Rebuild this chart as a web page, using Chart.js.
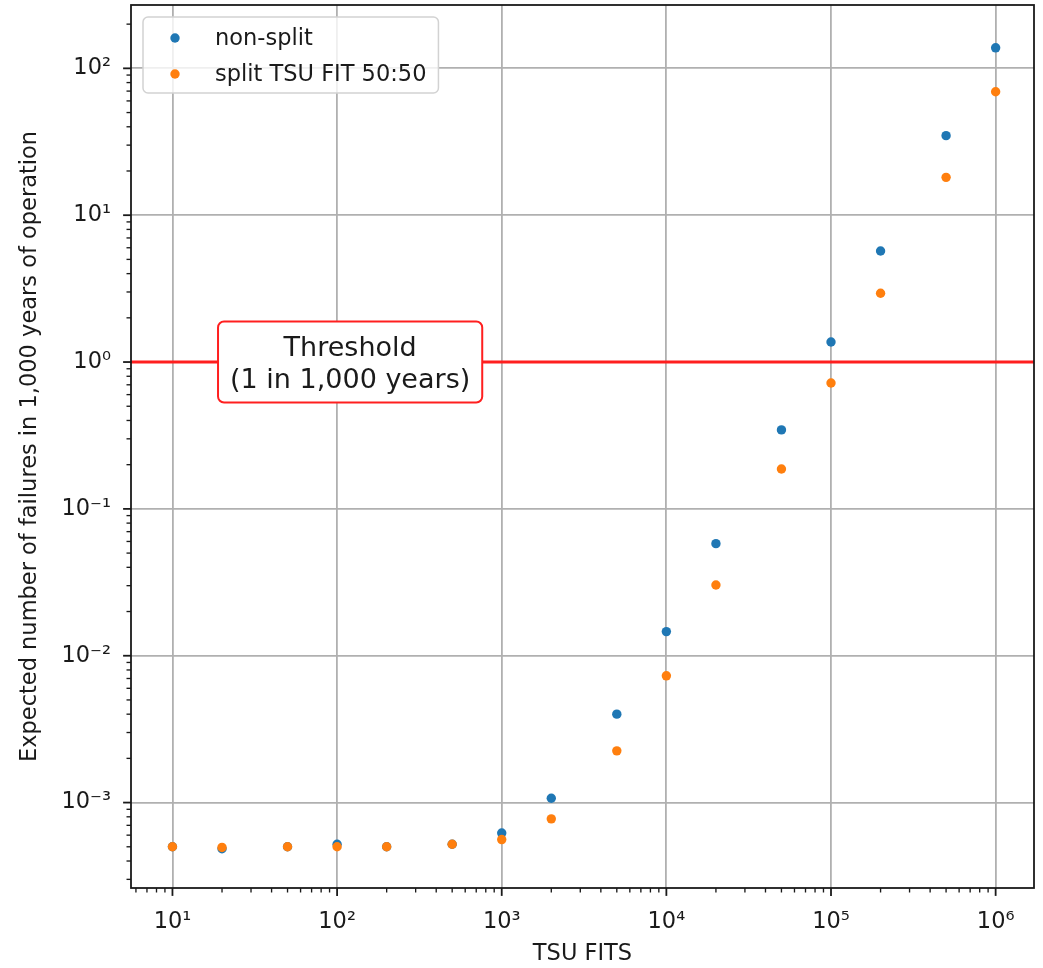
<!DOCTYPE html>
<html lang="en">
  <head>
    <meta charset="UTF-8">
    <title>Expected failures vs TSU FITS</title>
    <script src="https://cdn.jsdelivr.net/npm/chart.js"></script>
    <style>
      body { margin: 0; background: #fff; }
      #wrap { width: 1043px; height: 968px; }
    </style>
  </head>
  <body>
    <div id="wrap"><canvas id="failChart" width="1043" height="968"></canvas></div>

    <script>
      // values
      const tsuFits = [10, 20, 50, 100, 200, 500, 1000, 2000, 5000, 10000, 20000, 50000, 100000, 200000, 500000, 1000000];
      const nonSplit = [5.0e-4, 4.85e-4, 5.0e-4, 5.2e-4, 5.0e-4, 5.2e-4, 6.2e-4, 1.07e-3, 4.0e-3, 0.0146, 0.058, 0.345, 1.37, 5.7, 34.8, 138];
      const splitFifty = [5.0e-4, 4.95e-4, 5.0e-4, 5.0e-4, 5.0e-4, 5.2e-4, 5.6e-4, 7.75e-4, 2.25e-3, 7.3e-3, 0.0303, 0.187, 0.72, 2.94, 18.1, 69.3];
      const seriesLabels = ['non-split', 'split TSU FIT 50:50'];

      const thresholdValue = 1;
      const thresholdAt = 120; // x position of the label box
      const thresholdText = ['Threshold', '(1 in 1,000 years)'];

      const xTitle = 'TSU FITS';
      const yTitle = 'Expected number of failures in 1,000 years of operation';
      const xRange = [5.6, 1.71e6];
      const yRange = [2.62e-4, 270];

      const FONT = 'DejaVu Sans';
      const TXT = '#1a1a1a';
      const blue = '#1f77b4';
      const orange = '#ff7f0e';

      const supChars = { '-': '\u207B', '0': '\u2070', '1': '\u00B9', '2': '\u00B2', '3': '\u00B3', '4': '\u2074', '5': '\u2075', '6': '\u2076', '7': '\u2077', '8': '\u2078', '9': '\u2079' };

      function isDecade(v) {
        const e = Math.log10(v);
        return Math.abs(e - Math.round(e)) < 1e-9;
      }

      function powLabel(v) {
        const e = Math.round(Math.log10(v));
        return '10' + String(e).split('').map(c => supChars[c]).join('');
      }

      // decades plus 2..9 minors inside [min, max]
      function logTicks(min, max) {
        const ticks = [];
        for (let e = Math.floor(Math.log10(min)); e <= Math.ceil(Math.log10(max)); e++) {
          for (let m = 1; m < 10; m++) {
            const v = Number(m + 'e' + e);
            if (v >= min && v <= max) ticks.push({ value: v, major: m === 1 });
          }
        }
        return ticks;
      }

      function roundRect(ctx, x, y, w, h, r) {
        ctx.beginPath();
        ctx.moveTo(x + r, y);
        ctx.arcTo(x + w, y, x + w, y + h, r);
        ctx.arcTo(x + w, y + h, x, y + h, r);
        ctx.arcTo(x, y + h, x, y, r);
        ctx.arcTo(x, y, x + w, y, r);
        ctx.closePath();
      }

      const gridColor = ctx => (ctx.tick && isDecade(ctx.tick.value)) ? '#b0b0b0' : 'rgba(0,0,0,0)';

      const thresholdLine = {
        id: 'thresholdLine',
        beforeDatasetsDraw(chart) {
          const { ctx, chartArea } = chart;
          const y = chart.scales.y.getPixelForValue(thresholdValue);
          ctx.save();
          ctx.strokeStyle = '#ff1f1f';
          ctx.lineWidth = 3;
          ctx.beginPath();
          ctx.moveTo(chartArea.left, y);
          ctx.lineTo(chartArea.right, y);
          ctx.stroke();
          ctx.restore();
        },
        afterDatasetsDraw(chart) {
          const { ctx } = chart;
          const cx = chart.scales.x.getPixelForValue(thresholdAt);
          const cy = chart.scales.y.getPixelForValue(thresholdValue);
          ctx.save();
          ctx.font = '27px "' + FONT + '"';
          const w = Math.max(...thresholdText.map(t => ctx.measureText(t).width)) + 24;
          const h = 81;
          roundRect(ctx, cx - w / 2, cy - h / 2, w, h, 6);
          ctx.fillStyle = '#fff';
          ctx.fill();
          ctx.strokeStyle = '#ff1f1f';
          ctx.lineWidth = 2;
          ctx.stroke();
          ctx.fillStyle = TXT;
          ctx.textAlign = 'center';
          ctx.textBaseline = 'alphabetic';
          ctx.fillText(thresholdText[0], cx, cy - 6.5);
          ctx.fillText(thresholdText[1], cx, cy + 25.5);
          ctx.restore();
        }
      };

      // matplotlib-like legend in the upper left corner
      const cornerLegend = {
        id: 'cornerLegend',
        afterDatasetsDraw(chart) {
          const { ctx, chartArea } = chart;
          const sets = chart.data.datasets;
          ctx.save();
          ctx.font = '22.5px "' + FONT + '"';
          const left = chartArea.left + 12;
          const top = chartArea.top + 12;
          const textX = left + 72;
          const maxW = Math.max(...sets.map(d => ctx.measureText(d.label).width));
          const w = textX + maxW + 12 - left;
          const h = 76;
          roundRect(ctx, left, top, w, h, 5);
          ctx.fillStyle = 'rgba(255,255,255,0.8)';
          ctx.fill();
          ctx.strokeStyle = '#d2d2d2';
          ctx.lineWidth = 1.5;
          ctx.stroke();
          sets.forEach((d, i) => {
            const y = top + 21 + i * 36;
            ctx.beginPath();
            ctx.arc(left + 32, y, 4.7, 0, Math.PI * 2);
            ctx.fillStyle = d.backgroundColor;
            ctx.fill();
            ctx.fillStyle = TXT;
            ctx.textAlign = 'left';
            ctx.textBaseline = 'middle';
            ctx.fillText(d.label, textX, y + 1);
          });
          ctx.restore();
        }
      };

      // axes frame plus outward major/minor tick marks
      const frameTicks = {
        id: 'frameTicks',
        afterDraw(chart) {
          const { ctx, chartArea } = chart;
          const { x: xs, y: ys } = chart.scales;
          ctx.save();
          ctx.strokeStyle = TXT;
          xs.ticks.forEach(t => {
            const major = isDecade(t.value);
            const px = xs.getPixelForValue(t.value);
            ctx.lineWidth = major ? 1.8 : 1.35;
            ctx.beginPath();
            ctx.moveTo(px, chartArea.bottom);
            ctx.lineTo(px, chartArea.bottom + (major ? 7.9 : 4.5));
            ctx.stroke();
          });
          ys.ticks.forEach(t => {
            const major = isDecade(t.value);
            const py = ys.getPixelForValue(t.value);
            ctx.lineWidth = major ? 1.8 : 1.35;
            ctx.beginPath();
            ctx.moveTo(chartArea.left, py);
            ctx.lineTo(chartArea.left - (major ? 7.9 : 4.5), py);
            ctx.stroke();
          });
          ctx.lineWidth = 1.8;
          ctx.strokeRect(chartArea.left, chartArea.top, chartArea.right - chartArea.left, chartArea.bottom - chartArea.top);
          ctx.restore();
        }
      };

      const ctx = document.getElementById('failChart').getContext('2d');
      new Chart(ctx, {
        type: 'scatter',
        data: {
          datasets: [
            {
              label: seriesLabels[0],
              data: tsuFits.map((x, i) => ({ x: x, y: nonSplit[i] })),
              backgroundColor: blue,
              pointRadius: 4.7,
              borderWidth: 0,
              order: 2
            },
            {
              label: seriesLabels[1],
              data: tsuFits.map((x, i) => ({ x: x, y: splitFifty[i] })),
              backgroundColor: orange,
              pointRadius: 4.7,
              borderWidth: 0,
              order: 1
            }
          ]
        },
        options: {
          responsive: false,
          animation: false,
          layout: { padding: { left: 0, top: 5, right: 9, bottom: 0 } },
          plugins: { legend: { display: false }, tooltip: { enabled: false } },
          scales: {
            x: {
              type: 'logarithmic',
              min: xRange[0],
              max: xRange[1],
              afterBuildTicks: s => { s.ticks = logTicks(s.min, s.max); },
              afterFit: s => { s.height = 80; s.paddingLeft = 0; s.paddingRight = 0; },
              border: { display: false },
              grid: { color: gridColor, lineWidth: 1.8, drawTicks: false },
              ticks: {
                autoSkip: false, maxRotation: 0, padding: 21, color: TXT,
                font: { family: FONT, size: 22.5 },
                callback: v => isDecade(v) ? powLabel(v) : ''
              },
              title: { display: true, text: xTitle, color: TXT, font: { family: FONT, size: 22.5 }, padding: { top: 0, bottom: 0 } }
            },
            y: {
              type: 'logarithmic',
              min: yRange[0],
              max: yRange[1],
              afterBuildTicks: s => { s.ticks = logTicks(s.min, s.max); },
              afterFit: s => { s.width = 131; s.paddingTop = 0; s.paddingBottom = 0; },
              border: { display: false },
              grid: { color: gridColor, lineWidth: 1.8, drawTicks: false },
              ticks: {
                autoSkip: false, padding: 20, color: TXT,
                font: { family: FONT, size: 22.5 },
                callback: v => isDecade(v) ? powLabel(v) : ''
              },
              title: { display: true, text: yTitle, color: TXT, font: { family: FONT, size: 22.5 }, padding: { top: 17, bottom: 0 } }
            }
          }
        },
        plugins: [thresholdLine, cornerLegend, frameTicks]
      });
    </script>
  </body>
</html>
